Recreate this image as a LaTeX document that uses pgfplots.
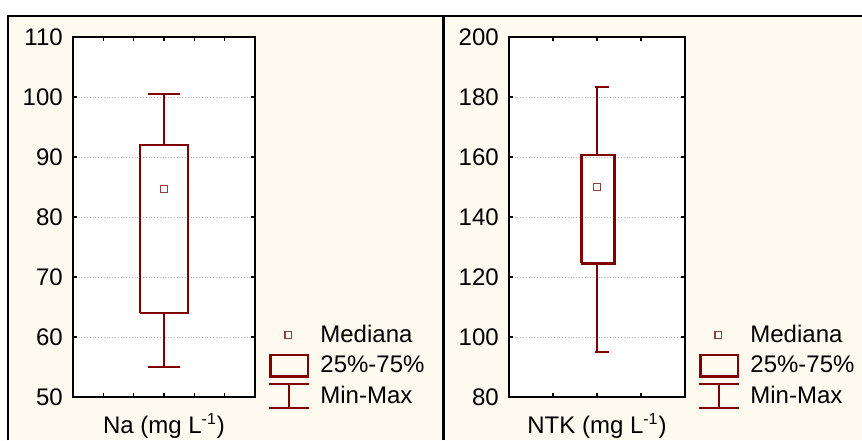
\documentclass[border=0pt]{standalone}
\usepackage{pgfplots}
\pgfplotsset{compat=1.18}
\usepackage{fontspec}
\setmainfont{Liberation Sans}

\definecolor{bgcream}{HTML}{FFFAF0}
\definecolor{boxred}{HTML}{800000}
\definecolor{medred}{HTML}{9A3A3A}

\newcommand{\lblfont}{\fontsize{12}{14.4}\selectfont}

\pgfplotsset{
  panel/.style={
    anchor=south west, scale only axis,
    height=180pt,
    axis background/.style={fill=white},
    axis line style={line width=0.75pt},
    tick pos=both, tick align=inside,
    major tick length=2pt,
    every tick/.style={black, line width=0.6pt},
    xticklabels={},
    ymajorgrids,
    grid style={densely dotted, black!30, line width=0.5pt},
    tick label style={font=\lblfont},
    /pgf/number format/assume math mode=true,
    yticklabel style={xshift=-1.6pt},
    xlabel style={font=\lblfont, at={(axis description cs:0.5,0)}, anchor=base, yshift=-18pt},
    legend cell align=left,
    legend style={at={(rel axis cs:1,0)}, anchor=south west, xshift=3.5pt, yshift=-8.25pt,
      draw=none, fill=none, font=\lblfont, row sep=2.25pt,
      nodes={inner sep=0pt},
      /tikz/every odd column/.append style={column sep=5pt}},
  },
  boxs/.style={draw=boxred, line width=1.35pt, forget plot},
  whisk/.style={draw=boxred, line width=1pt, forget plot},
  med/.style={only marks, mark=square, mark size=1.7pt, mark options={draw=medred, line width=0.55pt, fill=white}, forget plot},
  medleg/.style={legend image code/.code={\path[draw=none, fill=none] (0pt,-6.5pt) rectangle (20pt,6.5pt);
      \draw[medred, line width=0.55pt, fill=white] (7.8pt,-1.7pt) rectangle (11.2pt,1.7pt);}},
  boxleg/.style={legend image code/.code={\path[draw=none, fill=none] (0pt,-6.5pt) rectangle (20pt,6.5pt);
      \draw[boxred, line width=1.35pt] (0.7pt,-5.3pt) rectangle (19.3pt,5.3pt);}},
  whiskleg/.style={legend image code/.code={\path[draw=none, fill=none] (0pt,-6.5pt) rectangle (20pt,6.5pt);
      \draw[boxred, line width=1pt] (0pt,6pt) -- (20pt,6pt) (10pt,6pt) -- (10pt,-6pt) (0pt,-6pt) -- (20pt,-6pt);}},
}

\begin{document}
\begin{tikzpicture}
\path[use as bounding box] (0pt,0pt) rectangle (431pt,220pt);
\fill[bgcream] (3.5pt,0pt) rectangle (431pt,212pt);
\draw[black, line width=0.8pt] (3.5pt,212pt) -- (431pt,212pt);
\draw[black, line width=1pt] (4pt,0pt) -- (4pt,212pt);
\draw[black, line width=1.5pt] (221.5pt,0pt) -- (221.5pt,212pt);

% Na panel
\begin{axis}[panel, at={(36.5pt,21.5pt)}, width=91pt,
  xmin=-3, xmax=3, xtick={-2,-1,0,1,2},
  ymin=50, ymax=110, ytick={50,60,70,80,90,100,110},
  xlabel={Na (mg L\textsuperscript{-1})}]
\addplot[whisk] coordinates {(0,92) (0,100.5)};
\addplot[whisk] coordinates {(-0.54,100.5) (0.54,100.5)};
\addplot[whisk] coordinates {(0,64) (0,55)};
\addplot[whisk] coordinates {(-0.54,55) (0.54,55)};
\addplot[boxs] coordinates {(-0.79,64) (0.79,64) (0.79,92) (-0.79,92) (-0.79,64)};
\addplot[med] coordinates {(0,84.7)};
\addlegendimage{medleg}
\addlegendentry{Mediana}
\addlegendimage{boxleg}
\addlegendentry{25\%-75\%}
\addlegendimage{whiskleg}
\addlegendentry{Min-Max}
\end{axis}

% NTK panel
\begin{axis}[panel, at={(254.5pt,21.5pt)}, width=88pt,
  xmin=-2, xmax=2, xtick={-1,0,1},
  ymin=80, ymax=200, ytick={80,100,120,140,160,180,200},
  xlabel={NTK (mg L\textsuperscript{-1})}]
\addplot[whisk] coordinates {(0,160.7) (0,183.4)};
\addplot[whisk] coordinates {(-0.04,183.4) (0.28,183.4)};
\addplot[whisk] coordinates {(0,124.6) (0,94.9)};
\addplot[whisk] coordinates {(-0.04,94.9) (0.28,94.9)};
\addplot[boxs] coordinates {(-0.36,124.6) (0.39,124.6) (0.39,160.7) (-0.36,160.7) (-0.36,124.6)};
\addplot[med] coordinates {(0,150)};
\addlegendimage{medleg}
\addlegendentry{Mediana}
\addlegendimage{boxleg}
\addlegendentry{25\%-75\%}
\addlegendimage{whiskleg}
\addlegendentry{Min-Max}
\end{axis}
\end{tikzpicture}
\end{document}
